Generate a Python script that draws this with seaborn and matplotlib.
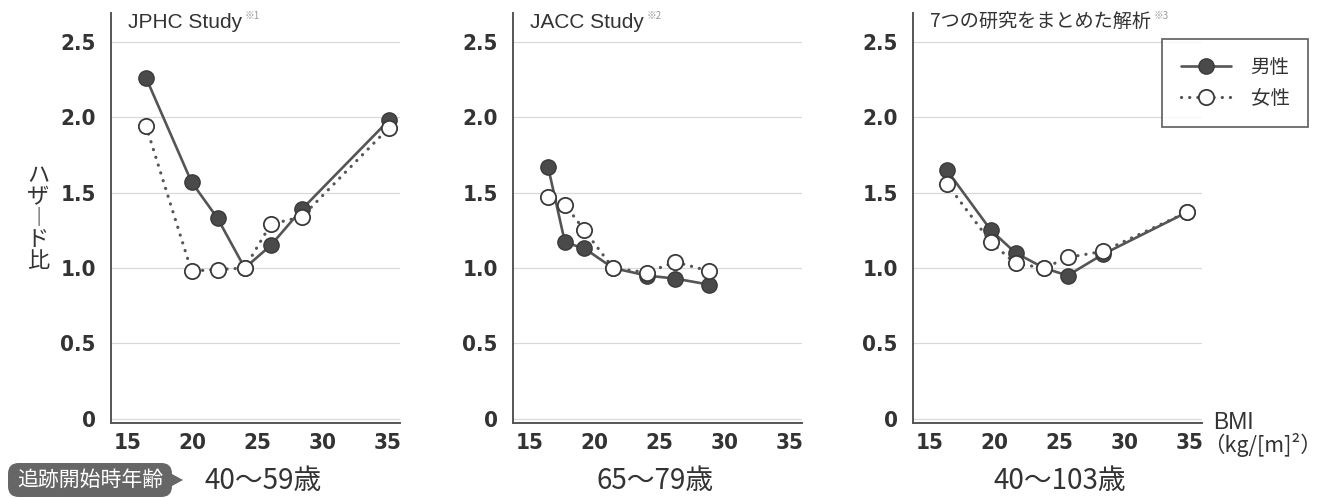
import numpy as np
import pandas as pd
import matplotlib
matplotlib.use("Agg")
import matplotlib.pyplot as plt
import seaborn as sns
from matplotlib.patches import FancyBboxPatch, Polygon

# ---------------- data ----------------
titles = ["JPHC Study", "JACC Study", "7つの研究をまとめた解析"]
notes = ["※1", "※2", "※3"]
ages = ["40〜59歳", "65〜79歳", "40〜103歳"]
sexes = ["男性", "女性"]

bmi_jphc = [16.4, 19.9, 21.9, 24.0, 26.0, 28.4, 35.1]
male_jphc = [2.26, 1.57, 1.33, 1.00, 1.15, 1.39, 1.98]
female_jphc = [1.94, 0.98, 0.99, 1.00, 1.29, 1.34, 1.93]

bmi_jacc = [16.4, 17.7, 19.2, 21.4, 24.0, 26.2, 28.8]
male_jacc = [1.67, 1.17, 1.13, 1.00, 0.95, 0.93, 0.89]
female_jacc = [1.47, 1.42, 1.25, 1.00, 0.97, 1.04, 0.98]

bmi_pool = [16.3, 19.7, 21.6, 23.8, 25.6, 28.3, 34.8]
male_pool = [1.65, 1.25, 1.10, 1.00, 0.95, 1.09, 1.37]
female_pool = [1.56, 1.17, 1.03, 1.00, 1.07, 1.11, 1.37]

yticks = [0, 0.5, 1.0, 1.5, 2.0, 2.5]
ytick_labels = ["0", "0.5", "1.0", "1.5", "2.0", "2.5"]
xticks = [15, 20, 25, 30, 35]

panels = [
    (bmi_jphc, male_jphc, female_jphc),
    (bmi_jacc, male_jacc, female_jacc),
    (bmi_pool, male_pool, female_pool),
]

# ---------------- style ----------------
sns.set_theme(style="white")
plt.rcParams["font.family"] = ["Noto Sans CJK JP", "DejaVu Sans"]
TXT = "#333333"
LINE = "#555555"
MARK = "#4a4a4a"
LAT_FONT = ["Liberation Sans", "Noto Sans CJK JP", "DejaVu Sans"]

W, H = 1331, 498
fig = plt.figure(figsize=(W / 100, H / 100), dpi=100)
fig.patch.set_facecolor("white")

lefts = [111, 513, 913]
ax_w, ax_top, ax_bot = 289, 13, 423

axes = []
for i, (bmi, male, female) in enumerate(panels):
    ax = fig.add_axes([lefts[i] / W, (H - ax_bot) / H, ax_w / W, (ax_bot - ax_top) / H])
    axes.append(ax)
    df = pd.DataFrame({
        "BMI": list(bmi) * 2,
        "HR": list(male) + list(female),
        "sex": [sexes[0]] * len(bmi) + [sexes[1]] * len(bmi),
    })
    sns.lineplot(data=df[df["sex"] == sexes[0]], x="BMI", y="HR", ax=ax,
                 errorbar=None, color=LINE, linewidth=1.9, marker="o",
                 markersize=11, markerfacecolor=MARK, markeredgecolor="#3a3a3a",
                 markeredgewidth=1.0, label=sexes[0], legend=False, zorder=3)
    sns.lineplot(data=df[df["sex"] == sexes[1]], x="BMI", y="HR", ax=ax,
                 errorbar=None, color=LINE, linewidth=2.3, linestyle=(0, (0.05, 2.5)),
                 dash_capstyle="round", marker="o",
                 markersize=11, markerfacecolor="white", markeredgecolor="#3a3a3a",
                 markeredgewidth=1.3, label=sexes[1], legend=False, zorder=4)

    ax.set_xlim(13.7, 35.95)
    ax.set_ylim(-0.027, 2.69)
    ax.set_xticks(xticks)
    ax.set_yticks(yticks)
    ax.set_yticklabels(ytick_labels)
    ax.set_xlabel("")
    ax.set_ylabel("")
    ax.grid(axis="y", color="#d9d9d9", linewidth=0.9)
    ax.grid(axis="x", visible=False)
    for s in ["top", "right"]:
        ax.spines[s].set_visible(False)
    for s in ["left", "bottom"]:
        ax.spines[s].set_color("#555555")
        ax.spines[s].set_linewidth(1.4)
    ax.tick_params(axis="both", length=0, colors=TXT)
    ax.tick_params(axis="y", pad=11)
    ax.tick_params(axis="x", pad=7)
    for lab in ax.get_xticklabels() + ax.get_yticklabels():
        lab.set_fontfamily(["DejaVu Sans"])
        lab.set_fontstretch("condensed")
        lab.set_fontweight("bold")
        lab.set_fontsize(16)
        lab.set_color(TXT)

    t = ax.text(0.059, 0.978, titles[i], transform=ax.transAxes, ha="left", va="center",
                fontsize=15 if i < 2 else 13.8, color=TXT,
                family=LAT_FONT if i < 2 else ["Noto Sans CJK JP", "DejaVu Sans"])
    ax.annotate(notes[i], xy=(1.0, 0.8), xycoords=t, xytext=(2, 0),
                textcoords="offset points", ha="left", va="center",
                fontsize=7, color="#9a9a9a", family=["Noto Sans CJK JP", "DejaVu Sans"])

    # age range label
    cx = [263, 655, 1060][i]
    fig.text(cx / W, 1 - 481 / H, ages[i], ha="center", va="center",
             fontsize=20, color=TXT)

# legend on third panel
ax3 = axes[2]
handles = ax3.get_lines()[:2]
leg = ax3.legend(handles, sexes, loc="upper right", bbox_to_anchor=(1.367, 0.937),
                 borderaxespad=0, frameon=True, fancybox=False, fontsize=14,
                 handlelength=2.6, handletextpad=1.0, labelspacing=0.5,
                 borderpad=0.95, labelcolor=TXT)
leg.get_frame().set_edgecolor("#444444")
leg.get_frame().set_linewidth(1.3)
leg.get_frame().set_facecolor("white")

# BMI axis label
fig.text(1213 / W, 1 - 422 / H, "BMI", ha="left", va="center", fontsize=16.5,
         color=TXT, family=LAT_FONT)
fig.text(1203 / W, 1 - 445 / H, "（kg/[m]²）", ha="left", va="center", fontsize=15.5,
         color=TXT)

# y label, stacked vertically
fig.text(38 / W, 1 - 218 / H, "ハ\nザ\n︱\nド\n比", ha="center", va="center",
         fontsize=16, color=TXT, linespacing=0.9)

# badge
bx0, bx1, by0, by1 = 8, 172, 463, 497
badge = FancyBboxPatch((bx0 / W, 1 - by1 / H), (bx1 - bx0) / W, (by1 - by0) / H,
                       boxstyle="round,pad=0,rounding_size=0.008",
                       transform=fig.transFigure, facecolor="#666666",
                       edgecolor="none", zorder=5, mutation_aspect=W / H)
fig.patches.append(badge)
tri = Polygon([[bx1 / W, 1 - 474 / H], [183 / W, 1 - 480 / H], [bx1 / W, 1 - 486 / H]],
              closed=True, transform=fig.transFigure, facecolor="#666666",
              edgecolor="none", zorder=5)
fig.patches.append(tri)
fig.text((bx0 + bx1) / 2 / W, 1 - 480 / H, "追跡開始時年齢", ha="center", va="center",
         fontsize=15, color="white", zorder=6)

fig.savefig("out.png", dpi=100, facecolor="white")
